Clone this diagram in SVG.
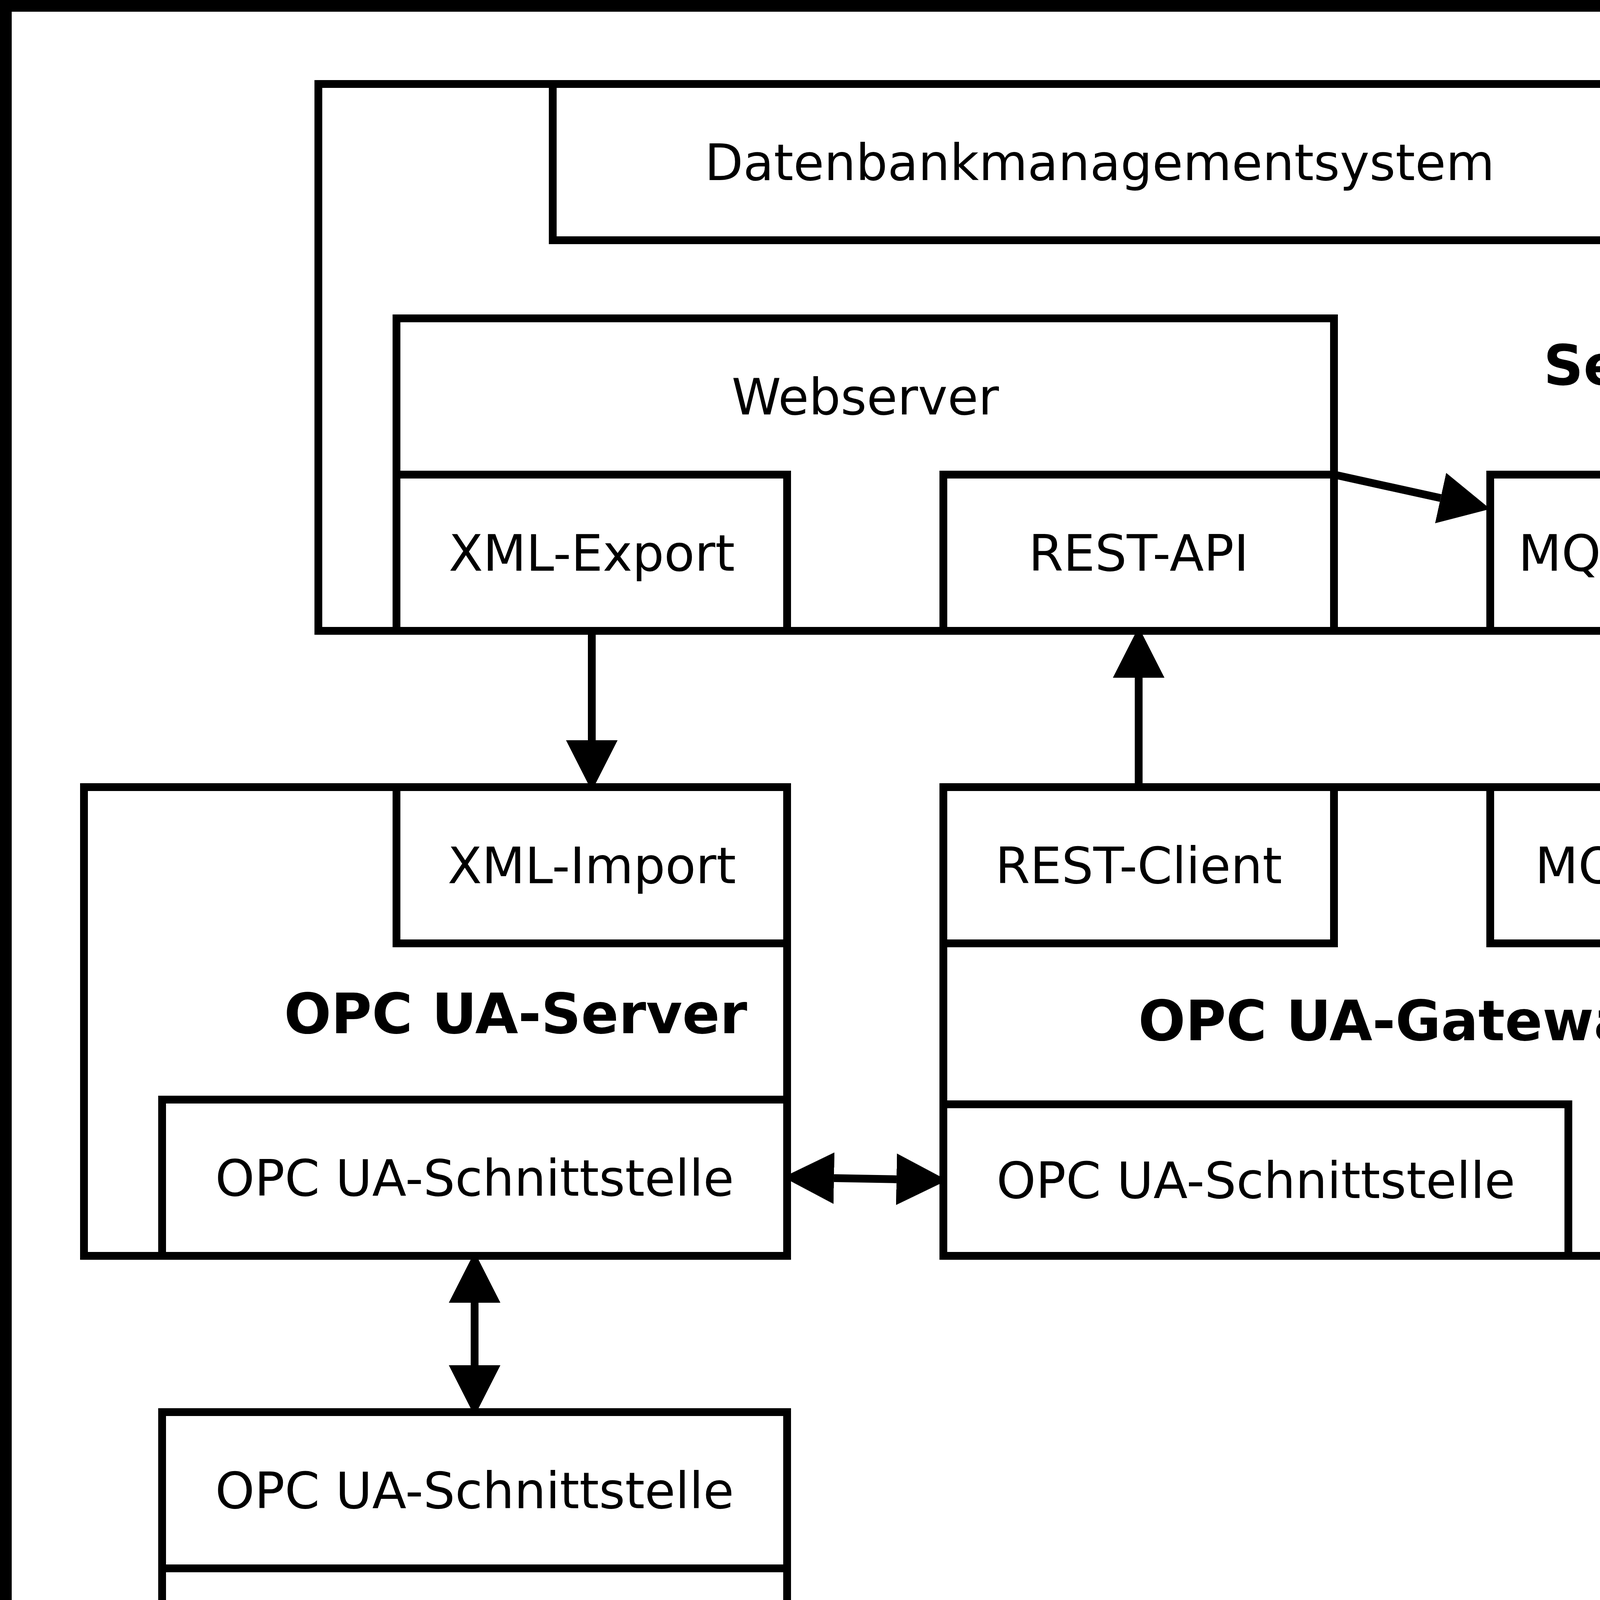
<svg xmlns="http://www.w3.org/2000/svg" width="5030" height="4630" viewBox="0 0 5030 4630">
  <style>
    .box { fill: #ffffff; stroke: #000000; stroke-width: 20; }
    .frame { fill: #ffffff; stroke: #000000; stroke-width: 30; }
    .lbl { font-family: "DejaVu Sans", "Liberation Sans", sans-serif; font-size: 128px; fill: #000000; text-anchor: middle; }
    .bold { font-family: "DejaVu Sans", "Liberation Sans", sans-serif; font-size: 142px; font-weight: bold; fill: #000000; text-anchor: middle; }
    .conn { fill: none; stroke: #000000; stroke-width: 20; }
  </style>
  <defs>
    <marker id="head" markerUnits="userSpaceOnUse" viewBox="0 0 130 132" markerWidth="130" markerHeight="132" refX="0" refY="66" orient="auto-start-reverse">
      <path d="M0,0 L130,66 L0,132 Z" fill="#000000"/>
    </marker>
  </defs>

  <rect class="frame" x="15" y="15" width="5000" height="4600"/>

  <g id="server">
    <rect class="box" x="815" y="215" width="4000" height="1400"/>
    <text class="bold" x="4215" y="985">Server</text>
  </g>
  <g id="dbms">
    <rect class="box" x="1415" y="215" width="2800" height="400"/>
    <text class="lbl" x="2815" y="461">Datenbankmanagementsystem</text>
  </g>
  <g id="webserver">
    <rect class="box" x="1015" y="815" width="2400" height="800"/>
    <text class="lbl" x="2215" y="1061">Webserver</text>
  </g>
  <g id="xml-export">
    <rect class="box" x="1015" y="1215" width="1000" height="400"/>
    <text class="lbl" x="1515" y="1461">XML-Export</text>
  </g>
  <g id="rest-api">
    <rect class="box" x="2415" y="1215" width="1000" height="400"/>
    <text class="lbl" x="2915" y="1461">REST-API</text>
  </g>
  <g id="mqtt-broker">
    <rect class="box" x="3815" y="1215" width="1000" height="400"/>
    <text class="lbl" x="4293" y="1461">MQTT-Broker</text>
  </g>

  <g id="opcua-server">
    <rect class="box" x="215" y="2015" width="1800" height="1200"/>
    <text class="bold" x="1320" y="2645">OPC UA-Server</text>
  </g>
  <g id="xml-import">
    <rect class="box" x="1015" y="2015" width="1000" height="400"/>
    <text class="lbl" x="1515" y="2261">XML-Import</text>
  </g>
  <g id="server-schnittstelle">
    <rect class="box" x="415" y="2815" width="1600" height="400"/>
    <text class="lbl" x="1215" y="3061">OPC UA-Schnittstelle</text>
  </g>

  <g id="opcua-gateway">
    <rect class="box" x="2415" y="2015" width="2400" height="1200"/>
    <text class="bold" x="3589" y="2663">OPC UA-Gateway</text>
  </g>
  <g id="rest-client">
    <rect class="box" x="2415" y="2015" width="1000" height="400"/>
    <text class="lbl" x="2915" y="2261">REST-Client</text>
  </g>
  <g id="mqtt-client">
    <rect class="box" x="3815" y="2015" width="1000" height="400"/>
    <text class="lbl" x="4315" y="2261">MQTT-Client</text>
  </g>
  <g id="gateway-schnittstelle">
    <rect class="box" x="2415" y="2827" width="1600" height="388"/>
    <text class="lbl" x="3215" y="3067">OPC UA-Schnittstelle</text>
  </g>

  <g id="client-schnittstelle">
    <rect class="box" x="415" y="3615" width="1600" height="400"/>
    <text class="lbl" x="1215" y="3861">OPC UA-Schnittstelle</text>
  </g>
  <g id="opcua-client">
    <rect class="box" x="415" y="4015" width="1600" height="400"/>
    <text class="bold" x="1216" y="4265">OPC UA-Client</text>
  </g>

  <g id="connectors">
    <path class="conn" d="M1515,1625 L1515,1895" marker-end="url(#head)"/>
    <path class="conn" d="M2915,2015 L2915,1735" marker-end="url(#head)"/>
    <path class="conn" d="M4315,1745 L4315,1895" marker-start="url(#head)" marker-end="url(#head)"/>
    <path class="conn" d="M3415,1215 L3688,1275" marker-end="url(#head)"/>
    <path class="conn" d="M2135,3016 L2295,3019" marker-start="url(#head)" marker-end="url(#head)"/>
    <path class="conn" d="M1215,3335 L1215,3495" marker-start="url(#head)" marker-end="url(#head)"/>
  </g>
</svg>
